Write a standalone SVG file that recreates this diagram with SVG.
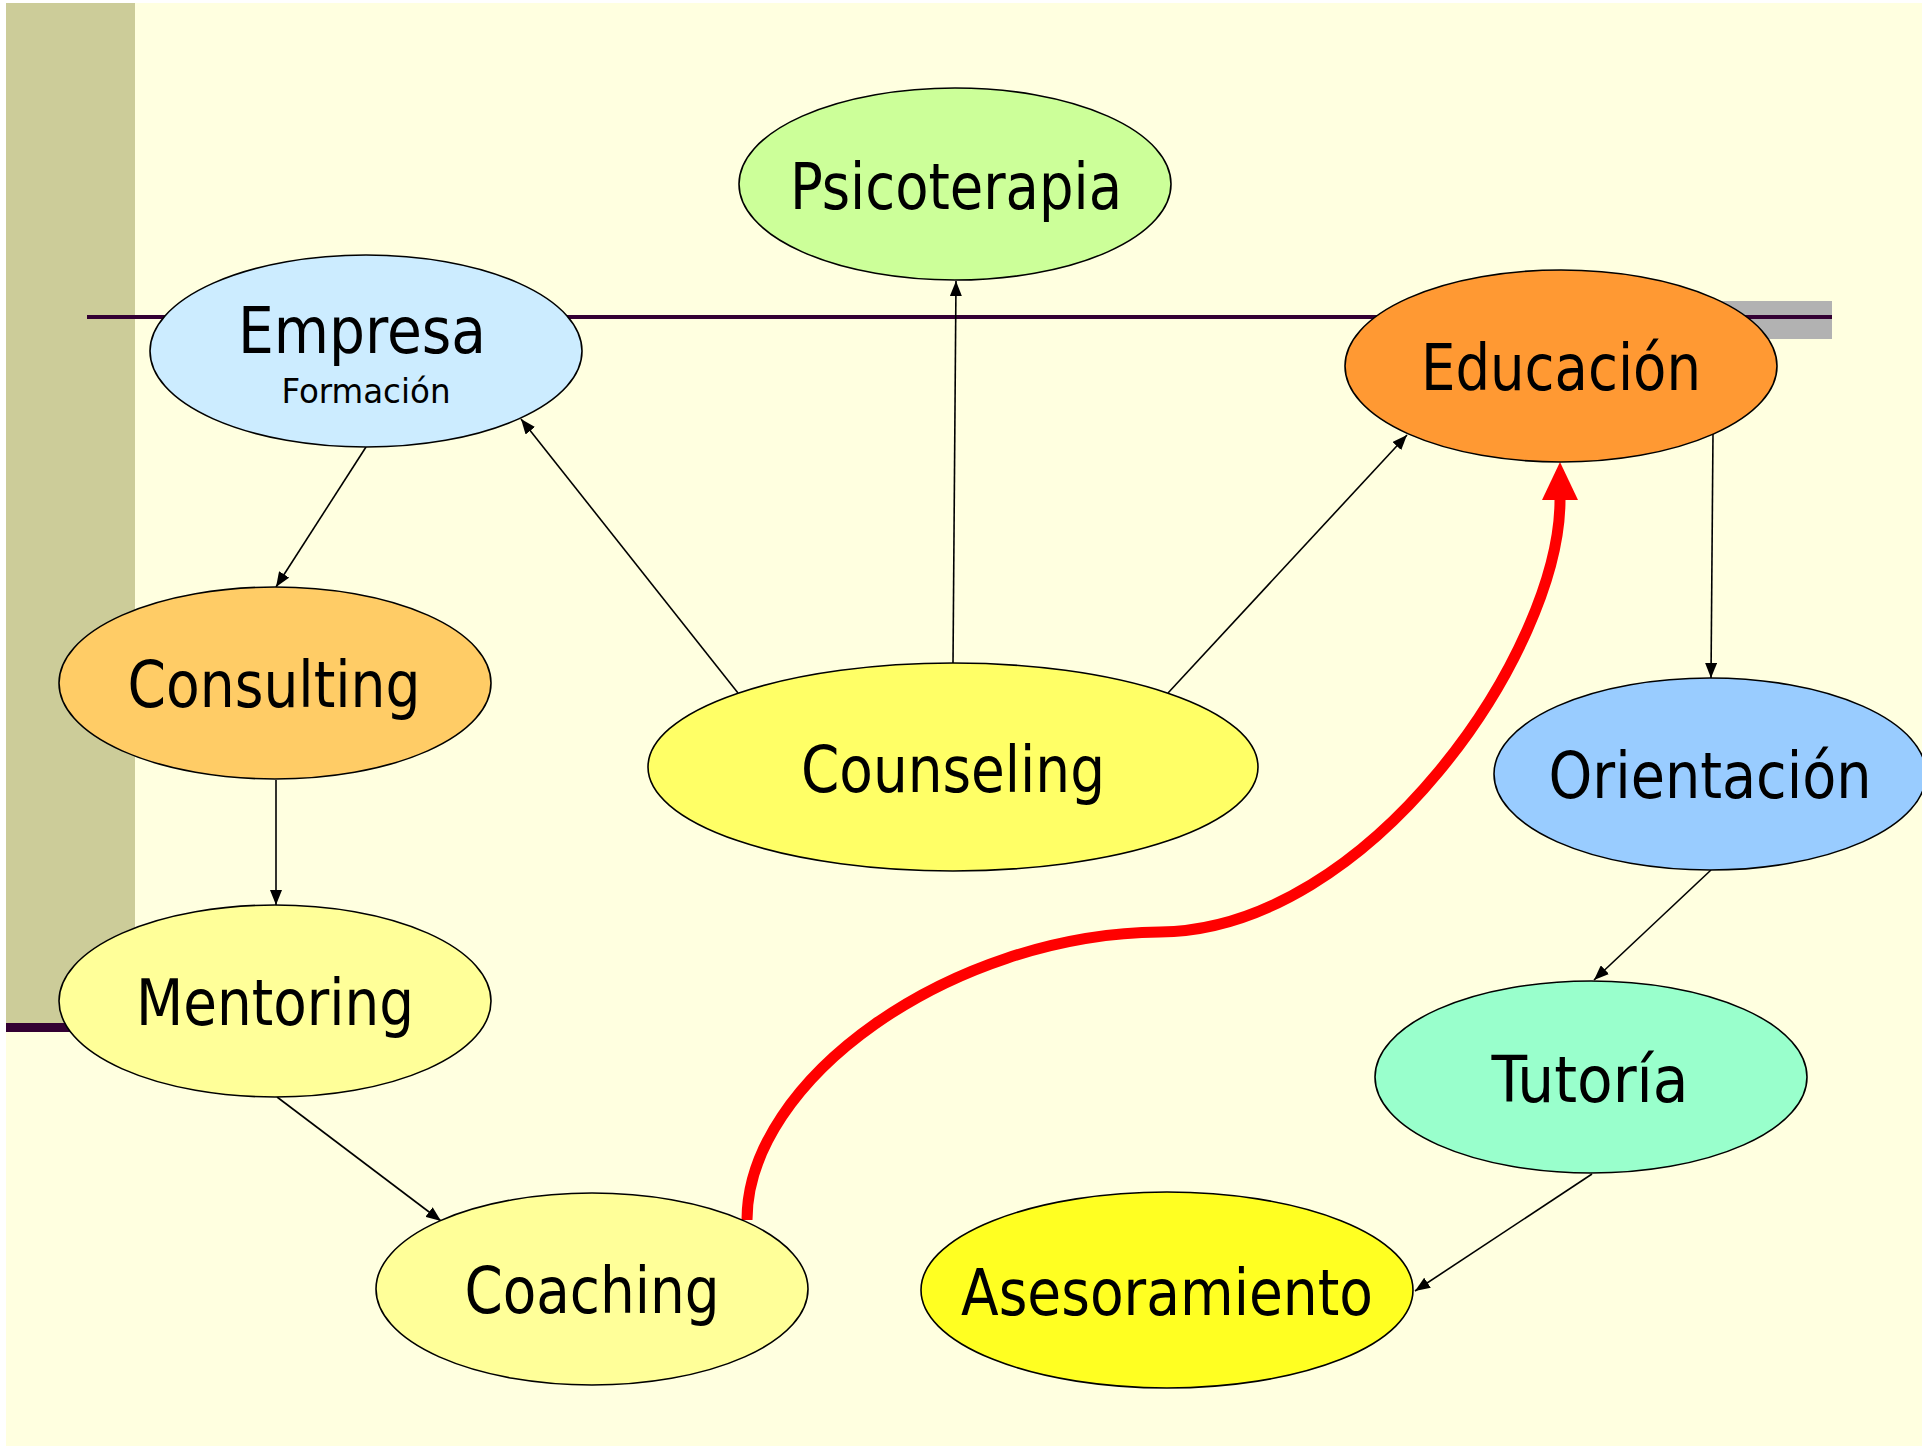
<svg xmlns="http://www.w3.org/2000/svg" width="1922" height="1446" viewBox="0 0 1922 1446">
<style>
.node ellipse{stroke:#000;stroke-width:1.6}
.lbl{font-family:"DejaVu Sans Condensed","DejaVu Sans",sans-serif;font-stretch:condensed;font-size:64px;fill:#000;text-anchor:middle}
.sub{font-size:33px}
.conn{stroke:#000;stroke-width:1.6;fill:none;marker-end:url(#arr)}
.red{stroke:#FF0000;stroke-width:11;fill:none;marker-end:url(#redarr)}
</style>
<defs>
<marker id="arr" markerUnits="userSpaceOnUse" markerWidth="15" markerHeight="12" viewBox="0 0 15 12" refX="15" refY="6" orient="auto">
<path d="M0,0 L15,6 L0,12 z" fill="#000"/>
</marker>
<marker id="redarr" markerUnits="userSpaceOnUse" markerWidth="38" markerHeight="36" viewBox="0 0 38 36" refX="0" refY="18" orient="auto">
<path d="M0,0 L38,18 L0,36 z" fill="#FF0000"/>
</marker>
</defs>
<g id="background">
<rect x="0" y="0" width="1922" height="1446" fill="#FFFFFF"/>
<rect x="6" y="3" width="1916" height="1443" fill="#FFFFE0"/>
<rect x="6" y="3" width="129" height="1020" fill="#CCCC99"/>
<rect x="6" y="1023" width="129" height="9" fill="#330033"/>
<rect x="1700" y="301" width="132" height="38" fill="#B2B2B2"/>
<line x1="87" y1="317" x2="1832" y2="317" stroke="#330033" stroke-width="4"/>
</g>
<g id="connectors">
<line class="conn" x1="366" y1="447" x2="276" y2="587"/>
<line class="conn" x1="276" y1="780" x2="276" y2="905"/>
<line class="conn" x1="277" y1="1097" x2="441" y2="1221"/>
<line class="conn" x1="738" y1="693" x2="521" y2="419"/>
<line class="conn" x1="953" y1="663" x2="956" y2="281"/>
<line class="conn" x1="1168" y1="693" x2="1407" y2="435"/>
<line class="conn" x1="1713" y1="433" x2="1711" y2="678"/>
<line class="conn" x1="1711" y1="870" x2="1594" y2="980"/>
<line class="conn" x1="1592" y1="1174" x2="1415" y2="1291"/>
<path class="red" d="M747,1220 C747,1080 950,934 1160,932 C1370,930 1560,650 1560,500"/>
</g>
<g id="psicoterapia" class="node">
<ellipse cx="955" cy="184" rx="216" ry="96" fill="#CCFF99"/>
<text class="lbl" x="956" y="209" textLength="332" lengthAdjust="spacingAndGlyphs">Psicoterapia</text>
</g>
<g id="empresa" class="node">
<ellipse cx="366" cy="351" rx="216" ry="96" fill="#CCECFF"/>
<text class="lbl" x="362" y="353" textLength="248" lengthAdjust="spacingAndGlyphs">Empresa</text>
<text class="lbl sub" x="366" y="403" textLength="169" lengthAdjust="spacingAndGlyphs">Formación</text>
</g>
<g id="educacion" class="node">
<ellipse cx="1561" cy="366" rx="216" ry="96" fill="#FF9933"/>
<text class="lbl" x="1561" y="390" textLength="280" lengthAdjust="spacingAndGlyphs">Educación</text>
</g>
<g id="consulting" class="node">
<ellipse cx="275" cy="683" rx="216" ry="96" fill="#FFCC66"/>
<text class="lbl" x="274" y="707" textLength="293" lengthAdjust="spacingAndGlyphs">Consulting</text>
</g>
<g id="counseling" class="node">
<ellipse cx="953" cy="767" rx="305" ry="104" fill="#FFFF66"/>
<text class="lbl" x="953" y="792" textLength="304" lengthAdjust="spacingAndGlyphs">Counseling</text>
</g>
<g id="orientacion" class="node">
<ellipse cx="1710" cy="774" rx="216" ry="96" fill="#99CCFF"/>
<text class="lbl" x="1710" y="798" textLength="323" lengthAdjust="spacingAndGlyphs">Orientación</text>
</g>
<g id="mentoring" class="node">
<ellipse cx="275" cy="1001" rx="216" ry="96" fill="#FFFF99"/>
<text class="lbl" x="275" y="1025" textLength="278" lengthAdjust="spacingAndGlyphs">Mentoring</text>
</g>
<g id="tutoria" class="node">
<ellipse cx="1591" cy="1077" rx="216" ry="96" fill="#99FFCC"/>
<text class="lbl" x="1590" y="1102" textLength="197" lengthAdjust="spacingAndGlyphs">Tutoría</text>
</g>
<g id="coaching" class="node">
<ellipse cx="592" cy="1289" rx="216" ry="96" fill="#FFFF99"/>
<text class="lbl" x="592" y="1313" textLength="255" lengthAdjust="spacingAndGlyphs">Coaching</text>
</g>
<g id="asesoramiento" class="node">
<ellipse cx="1167" cy="1290" rx="246" ry="98" fill="#FFFF22"/>
<text class="lbl" x="1167" y="1315" textLength="412" lengthAdjust="spacingAndGlyphs">Asesoramiento</text>
</g>
</svg>
